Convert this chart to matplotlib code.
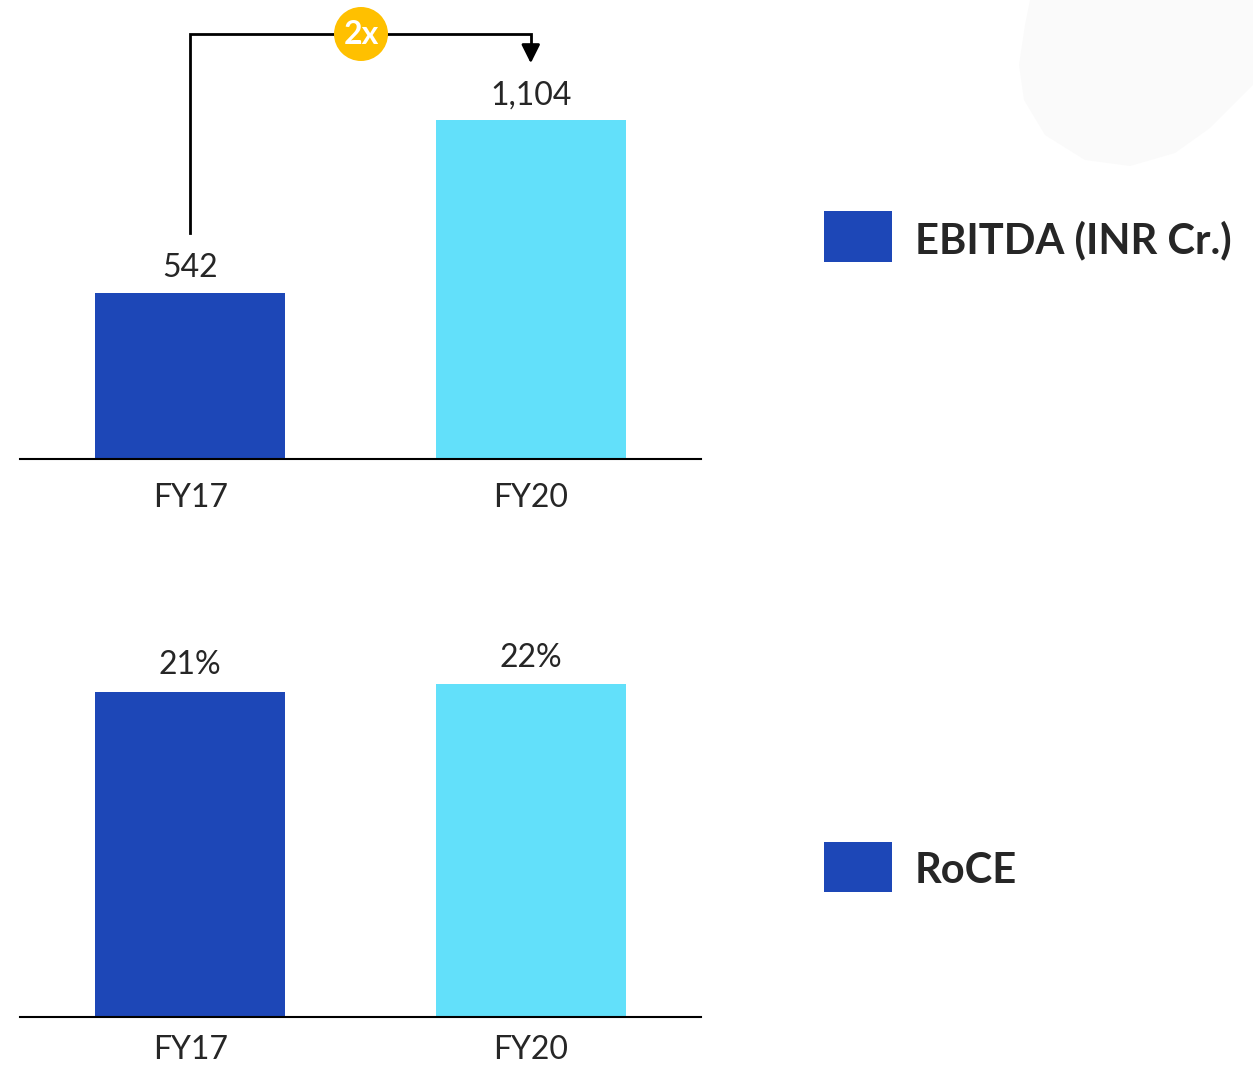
import matplotlib
matplotlib.use("Agg")
import matplotlib.pyplot as plt
from matplotlib.patches import Circle, Rectangle, Polygon

plt.rcParams['font.family'] = ['Lato', 'DejaVu Sans']

# data
years = ['FY17', 'FY20']
ebitda = [542, 1104]
ebitda_labels = ['542', '1,104']
roce = [21.4, 21.9]
roce_labels = ['21%', '22%']
growth_label = '2x'

dark_blue = '#1D47B7'
cyan = '#62E0FA'
text_col = '#262626'
colors = [dark_blue, cyan]

W, H = 1253, 1068
fig = plt.figure(figsize=(W / 100, H / 100), dpi=100)

# faint background blob in the top-right corner
blob = Polygon([(1030 / W, 1 - 0 / H), (1253 / W, 1 - 0 / H), (1253 / W, 1 - 85 / H),
                (1210 / W, 1 - 128 / H), (1175 / W, 1 - 153 / H), (1130 / W, 1 - 166 / H),
                (1085 / W, 1 - 160 / H), (1045 / W, 1 - 135 / H), (1024 / W, 1 - 100 / H),
                (1019 / W, 1 - 65 / H), (1025 / W, 1 - 25 / H)],
               closed=True, transform=fig.transFigure, facecolor='#FAFAFA', edgecolor='none', zorder=0)
fig.patches.append(blob)


def fig_ax(x0, y_top, x1, y_base):
    return fig.add_axes([x0 / W, 1 - y_base / H, (x1 - x0) / W, (y_base - y_top) / H])


def style(ax, pad):
    for s in ['top', 'right', 'left']:
        ax.spines[s].set_visible(False)
    ax.spines['bottom'].set_color('black')
    ax.spines['bottom'].set_linewidth(1.5)
    ax.set_yticks([])
    ax.set_xlim(-0.5, 1.5)
    ax.set_xticks(range(len(years)))
    ax.set_xticklabels(years, fontsize=23, color=text_col)
    ax.tick_params(axis='x', length=0, pad=pad)
    ax.patch.set_alpha(0)


# EBITDA panel
px1 = 0.307  # pixels per data unit
ax1 = fig_ax(20, 0, 701, 459)
ax1.set_ylim(0, 459 / px1)
ax1.bar(range(len(years)), ebitda, width=0.557, color=colors)
style(ax1, 17)
for i, (v, lab) in enumerate(zip(ebitda, ebitda_labels)):
    ax1.text(i, v + 32, lab, ha='center', va='bottom', fontsize=23, color=text_col)

# growth bracket
y_top = (459 - 34) / px1
ax1.plot([0, 0, 1, 1], [(459 - 233) / px1, y_top, y_top, y_top - 16 / px1],
         color='black', lw=2, clip_on=False, solid_joinstyle='miter')
ax1.annotate('', xy=(1, (459 - 66) / px1), xytext=(1, y_top - 14 / px1),
             arrowprops=dict(arrowstyle='-|>', color='black', lw=2, mutation_scale=28),
             annotation_clip=False)
fig.patches.append(Circle((3.61, (H - 34) / 100), 0.27, transform=fig.dpi_scale_trans,
                          facecolor='#FFC000', edgecolor='none', zorder=5))
fig.text(361 / W, 1 - 35 / H, growth_label, ha='center', va='center', fontsize=23,
         fontweight='bold', color='white', zorder=6)

# RoCE panel
px2 = 15.2
ax2 = fig_ax(20, 560, 701, 1017)
ax2.set_ylim(0, 457 / px2)
ax2.bar(range(len(years)), roce, width=0.557, color=colors)
style(ax2, 13)
for i, (v, lab) in enumerate(zip(roce, roce_labels)):
    ax2.text(i, v + 0.75, lab, ha='center', va='bottom', fontsize=23, color=text_col)

# legends
for y0, y1, label in [(211, 262, 'EBITDA (INR Cr.)'), (842, 892, 'RoCE')]:
    fig.patches.append(Rectangle((824 / W, 1 - y1 / H), 68 / W, (y1 - y0) / H,
                                 transform=fig.transFigure, facecolor=dark_blue, edgecolor='none'))
    fig.text(915 / W, 1 - ((y0 + y1) / 2 + 4) / H, label, ha='left', va='center',
             fontsize=30, fontweight='bold', color=text_col)

fig.savefig('out.png', dpi=100, facecolor='white')
